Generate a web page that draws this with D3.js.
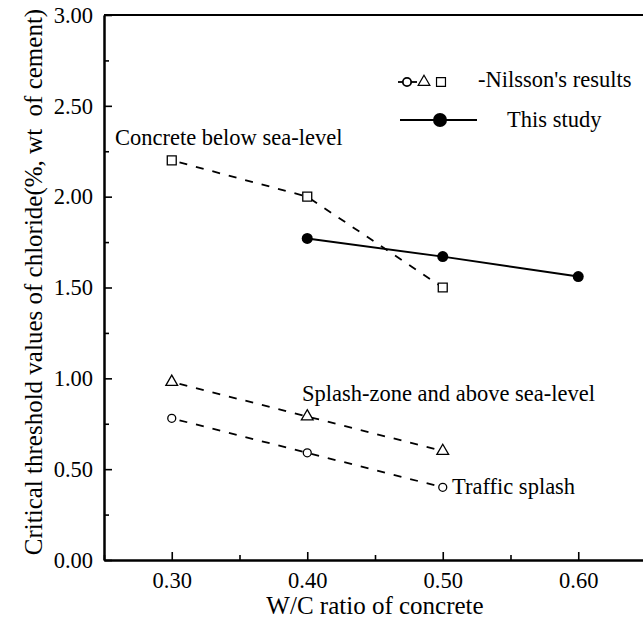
<!DOCTYPE html>
<html>
<head>
<meta charset="utf-8">
<script src="https://cdn.jsdelivr.net/npm/d3@7"></script>
<style>
  body { margin: 0; background: #fff; }
  svg { display: block; }
  svg text { font-family: "Liberation Serif", "Times New Roman", serif; fill: #000; }
</style>
</head>
<body>
<svg id="chart" width="643" height="622"></svg>
<script>
// W/C ratios and chloride threshold values (% wt of cement)
const nilssonWc = [0.30, 0.40, 0.50];
const belowSea = [2.20, 2.00, 1.50];
const splashZone = [0.98, 0.79, 0.60];
const trafficSplash = [0.78, 0.59, 0.40];
const studyWc = [0.40, 0.50, 0.60];
const thisStudy = [1.77, 1.67, 1.56];

const xTicks = [0.30, 0.40, 0.50, 0.60];
const xMinor = [0.25, 0.35, 0.45, 0.55];
const yTicks = [0, 0.5, 1.0, 1.5, 2.0, 2.5, 3.0];
const yMinor = [0.25, 0.75, 1.25, 1.75, 2.25, 2.75];

const W = 643, H = 622;
const plotLeft = 104, plotBottom = 560, plotTop = 15;
const serif = "'Liberation Serif', 'Times New Roman', serif";
const fs = "22.5px";

const svg = d3.select("#chart");

const x = d3.scaleLinear().domain([0.25, 0.65]).range([plotLeft, 646]);
const y = d3.scaleLinear().domain([0, 3]).range([plotBottom, plotTop]);

const fmt = d3.format(".2f");

// y axis
svg.append("g")
    .attr("transform", "translate(" + plotLeft + ",0)")
    .call(d3.axisLeft(y).tickValues(yTicks).tickFormat(fmt).tickSize(-8).tickSizeOuter(0).tickPadding(11))
    .call(g => g.attr("font-family", serif).attr("font-size", 22.5));
svg.append("g")
    .attr("transform", "translate(" + plotLeft + ",0)")
    .call(d3.axisLeft(y).tickValues(yMinor).tickFormat("").tickSize(-5).tickSizeOuter(0));

// x axis
svg.append("g")
    .attr("transform", "translate(0," + plotBottom + ")")
    .call(d3.axisBottom(x).tickValues(xTicks).tickFormat(fmt).tickSize(-8).tickSizeOuter(0).tickPadding(12))
    .call(g => g.attr("font-family", serif).attr("font-size", 22.5));
svg.append("g")
    .attr("transform", "translate(0," + plotBottom + ")")
    .call(d3.axisBottom(x).tickValues(xMinor).tickFormat("").tickSize(-5).tickSizeOuter(0));

svg.selectAll(".domain").attr("stroke-width", 2);
svg.selectAll(".tick line").attr("stroke-width", 1.6);

// top frame line
svg.append("line")
    .attr("x1", plotLeft).attr("x2", W)
    .attr("y1", y(3)).attr("y2", y(3))
    .attr("stroke", "#000").attr("stroke-width", 2);

// axis titles
svg.append("text")
    .attr("x", 375).attr("y", 614)
    .attr("text-anchor", "middle")
    .style("font-size", "25px")
    .text("W/C ratio of concrete");

svg.append("text")
    .attr("transform", "translate(42,282) rotate(-90)")
    .attr("text-anchor", "middle")
    .style("font-size", "25px")
    .text("Critical threshold values of chloride(%, wt\u00a0 of cement)");

// dashed Nilsson lines
const line = d3.line().x(d => x(d[0])).y(d => y(d[1]));
const nilsson = [
    {vals: belowSea, marker: "square"},
    {vals: splashZone, marker: "triangle"},
    {vals: trafficSplash, marker: "circle"}
];

nilsson.forEach(s => {
    const pts = nilssonWc.map((w, i) => [w, s.vals[i]]);
    svg.append("path")
        .attr("d", line(pts))
        .attr("fill", "none")
        .attr("stroke", "#000")
        .attr("stroke-width", 1.8)
        .attr("stroke-dasharray", "8,9")
        .attr("stroke-dashoffset", -8);
    const sym = s.marker === "square" ? d3.symbolSquare : s.marker === "triangle" ? d3.symbolTriangle : d3.symbolCircle;
    const size = s.marker === "square" ? 80 : s.marker === "triangle" ? 60 : 50;
    svg.selectAll(null)
        .data(pts)
        .enter().append("path")
        .attr("transform", d => "translate(" + x(d[0]) + "," + y(d[1]) + ")")
        .attr("d", d3.symbol().type(sym).size(size))
        .attr("fill", "#fff")
        .attr("stroke", "#000")
        .attr("stroke-width", 1.3);
});

// this study
const studyPts = studyWc.map((w, i) => [w, thisStudy[i]]);
svg.append("path")
    .attr("d", line(studyPts))
    .attr("fill", "none")
    .attr("stroke", "#000")
    .attr("stroke-width", 2);
svg.selectAll(null)
    .data(studyPts)
    .enter().append("circle")
    .attr("cx", d => x(d[0]))
    .attr("cy", d => y(d[1]))
    .attr("r", 5.5)
    .attr("fill", "#000");

// annotations
svg.append("text").attr("x", 115).attr("y", 145).style("font-size", fs).text("Concrete below sea-level");
svg.append("text").attr("x", 302).attr("y", 401).style("font-size", fs).text("Splash-zone and above sea-level");
svg.append("text").attr("x", 452).attr("y", 494).style("font-size", fs).text("Traffic splash");

// legend
const lg = svg.append("g");
lg.append("line").attr("x1", 398).attr("x2", 417).attr("y1", 82).attr("y2", 82)
    .attr("stroke", "#000").attr("stroke-width", 1.8);
lg.append("path").attr("transform", "translate(407,82)")
    .attr("d", d3.symbol().type(d3.symbolCircle).size(55))
    .attr("fill", "#fff").attr("stroke", "#000").attr("stroke-width", 1.8);
lg.append("path").attr("transform", "translate(424,82)")
    .attr("d", d3.symbol().type(d3.symbolTriangle).size(60))
    .attr("fill", "#fff").attr("stroke", "#000").attr("stroke-width", 1.2);
lg.append("path").attr("transform", "translate(441,82)")
    .attr("d", d3.symbol().type(d3.symbolSquare).size(80))
    .attr("fill", "#fff").attr("stroke", "#000").attr("stroke-width", 1.2);
lg.append("text").attr("x", 478).attr("y", 87).style("font-size", fs).text("-Nilsson's results");

lg.append("line").attr("x1", 400).attr("x2", 477).attr("y1", 120).attr("y2", 120)
    .attr("stroke", "#000").attr("stroke-width", 2);
lg.append("circle").attr("cx", 440).attr("cy", 120).attr("r", 7).attr("fill", "#000");
lg.append("text").attr("x", 507).attr("y", 127).style("font-size", fs).text("This study");
</script>
</body>
</html>
